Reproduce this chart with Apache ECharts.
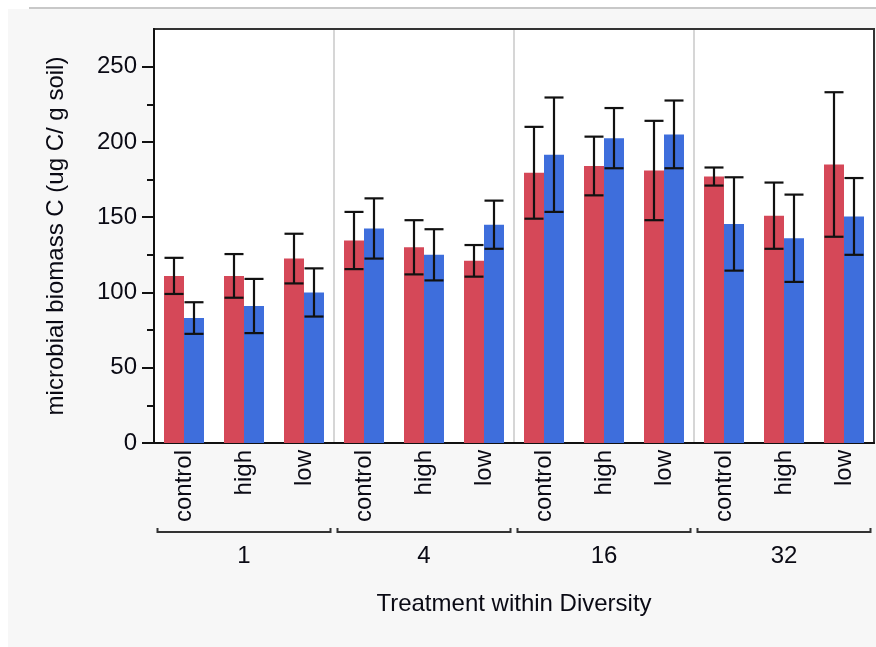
<!DOCTYPE html>
<html>
<head>
<meta charset="utf-8">
<script src="https://cdn.jsdelivr.net/npm/echarts@6/dist/echarts.min.js"></script>
<style>
  html, body { margin: 0; padding: 0; background: #ffffff; }
  #chart { width: 876px; height: 647px; }
</style>
</head>
<body>
<div id="chart"></div>
<script>
// Treatment levels repeated within each diversity level
const treatments = ['control', 'high', 'low'];
const diversityLevels = ['1', '4', '16', '32'];
const categories = [];
diversityLevels.forEach(function () { treatments.forEach(function (t) { categories.push(t); }); });

// Mean microbial biomass C for the two series (red, blue)
const redMeans  = [111, 111, 122.5, 134.5, 130, 121, 179.5, 184, 181, 177, 151, 185];
const blueMeans = [83, 91, 100, 142.5, 125, 145, 191.5, 202.5, 205, 145.5, 136, 150.5];
// Error bar half-widths
const redErr  = [12, 14.5, 16.5, 19, 18, 10.5, 30.5, 19.5, 33, 6, 22, 48];
const blueErr = [10.5, 18, 16, 20, 17, 16, 38, 20, 22.5, 31, 29, 25.5];

// Value axis range and tick positions
const yRange = { min: 0, max: 275 };
const yMajorTicks = [0, 50, 100, 150, 200, 250];
const yMinorTicks = [25, 75, 125, 175, 225];

const RED = '#d54858';
const BLUE = '#3e6edc';
const FONT = 'Liberation Sans, Arial, sans-serif';
const FS = 24;
const TXT = '#0a0a14';
const BAR_W = 20;

function errorItems(means, errs) {
  return means.map(function (m, i) { return [i, m - errs[i], m + errs[i]]; });
}

function errorRenderer(offset) {
  return function (params, api) {
    const lo = api.coord([api.value(0), api.value(1)]);
    const hi = api.coord([api.value(0), api.value(2)]);
    const x = lo[0] + offset;
    const cap = 9.5;
    const style = { stroke: '#111', lineWidth: 2.2, fill: null };
    return {
      type: 'group',
      children: [
        { type: 'line', shape: { x1: x, y1: hi[1], x2: x, y2: lo[1] }, style: style },
        { type: 'line', shape: { x1: x - cap, y1: hi[1], x2: x + cap, y2: hi[1] }, style: style },
        { type: 'line', shape: { x1: x - cap, y1: lo[1], x2: x + cap, y2: lo[1] }, style: style }
      ]
    };
  };
}

// Group separators inside the plot and brackets beneath the treatment labels
function groupRenderer(params, api) {
  const g = api.value(0);
  const band = api.size([1, 0])[0];
  const first = api.coord([g * 3, 0]);
  const last = api.coord([g * 3 + 2, 0]);
  const top = api.coord([0, yRange.max])[1];
  const left = first[0] - band / 2;
  const right = last[0] + band / 2;
  const base = first[1];
  const by = base + 89;
  const children = [
    {
      type: 'polyline',
      shape: { points: [[left + 3.5, by - 4], [left + 3.5, by], [right - 3.5, by], [right - 3.5, by - 4]] },
      style: { stroke: '#333', lineWidth: 2, fill: null }
    }
  ];
  if (g > 0) {
    children.push({
      type: 'line',
      shape: { x1: left, y1: top + 1, x2: left, y2: base - 1 },
      style: { stroke: '#c8c8c8', lineWidth: 1.5 }
    });
  }
  return { type: 'group', children: children };
}

const chart = echarts.init(document.getElementById('chart'), null, { renderer: 'canvas' });

chart.setOption({
  animation: false,
  backgroundColor: '#ffffff',
  graphic: [
    { type: 'rect', z: -10, shape: { x: 8, y: 9, width: 868, height: 638 }, style: { fill: '#f7f7f7' } },
    { type: 'line', z: -9, shape: { x1: 29, y1: 8, x2: 876, y2: 8 }, style: { stroke: '#c8c8c8', lineWidth: 2 } }
  ],
  grid: {
    left: 154, right: 2, top: 29, bottom: 204,
    show: true, backgroundColor: '#ffffff', borderColor: '#333', borderWidth: 2
  },
  xAxis: [
    {
      type: 'category',
      data: categories,
      axisLine: { show: true, lineStyle: { color: '#111', width: 2 } },
      axisTick: { show: false },
      axisLabel: {
        rotate: 90, margin: 7, interval: 0,
        fontFamily: FONT, fontSize: FS, color: TXT
      },
      splitLine: { show: false },
      name: 'Treatment within Diversity',
      nameLocation: 'middle',
      nameGap: 149,
      nameTextStyle: { fontFamily: FONT, fontSize: FS, color: TXT }
    },
    {
      type: 'category',
      data: diversityLevels,
      position: 'bottom',
      offset: 100,
      axisLine: { show: false },
      axisTick: { show: false },
      axisLabel: { margin: 1, fontFamily: FONT, fontSize: FS, color: TXT },
      splitLine: { show: false }
    }
  ],
  yAxis: [
    {
      type: 'value',
      min: yRange.min, max: yRange.max,
      axisLine: { show: true, lineStyle: { color: '#111', width: 2 } },
      axisTick: { show: true, length: 12, customValues: yMajorTicks, lineStyle: { color: '#111', width: 2 } },
      axisLabel: { margin: 17, customValues: yMajorTicks, fontFamily: FONT, fontSize: FS, color: TXT },
      splitLine: { show: false },
      name: 'microbial biomass C (ug C/ g soil)',
      nameLocation: 'middle',
      nameGap: 86,
      nameTextStyle: { fontFamily: FONT, fontSize: FS, color: TXT }
    },
    {
      // minor ticks only
      type: 'value',
      position: 'left',
      min: yRange.min, max: yRange.max,
      axisLine: { show: false },
      axisTick: { show: true, length: 7, customValues: yMinorTicks, lineStyle: { color: '#111', width: 2 } },
      axisLabel: { show: false },
      splitLine: { show: false }
    }
  ],
  series: [
    {
      type: 'bar', data: redMeans, barWidth: BAR_W, barGap: '0%',
      itemStyle: { color: RED }
    },
    {
      type: 'bar', data: blueMeans, barWidth: BAR_W, barGap: '0%',
      itemStyle: { color: BLUE }
    },
    {
      type: 'custom', renderItem: errorRenderer(-BAR_W / 2),
      data: errorItems(redMeans, redErr), encode: { x: 0, y: [1, 2] }, z: 5
    },
    {
      type: 'custom', renderItem: errorRenderer(BAR_W / 2),
      data: errorItems(blueMeans, blueErr), encode: { x: 0, y: [1, 2] }, z: 5
    },
    {
      type: 'custom', renderItem: groupRenderer, clip: false,
      data: diversityLevels.map(function (d, i) { return [i]; }), encode: { x: 0 }, z: 1, silent: true
    }
  ]
});
</script>
</body>
</html>
